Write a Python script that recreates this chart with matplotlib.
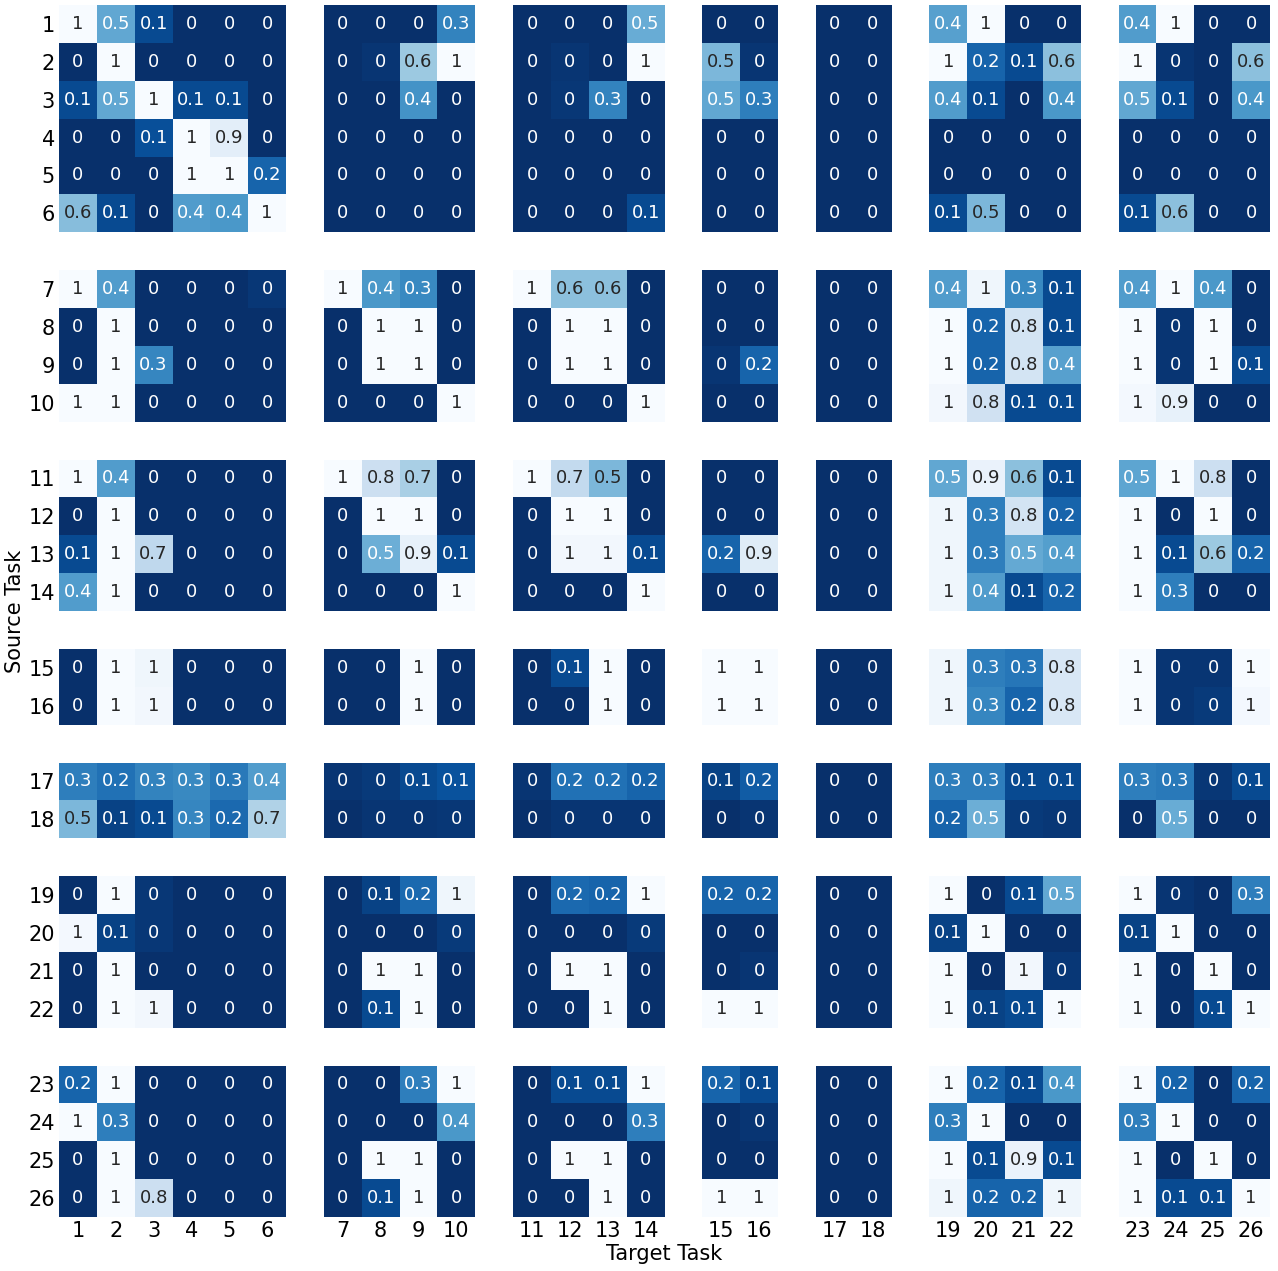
import numpy as np
import matplotlib
matplotlib.use("Agg")
import matplotlib.pyplot as plt
from matplotlib import colors as mcolors

# ---------------- data ----------------
task_labels = [str(i) for i in range(1, 27)]
group_sizes = [6, 4, 4, 2, 2, 4, 4]

src_01_06 = [
    [1, 0.47, 0.1, 0, 0, 0,   0, 0, 0, 0.32,   0, 0, 0, 0.49,   0, 0,   0, 0,   0.44, 1, 0, 0,   0.42, 1, 0, 0],
    [0, 1, 0, 0, 0, 0,   0, 0.02, 0.62, 1,   0, 0.02, 0, 1,   0.54, 0.02,   0, 0,   1, 0.2, 0.1, 0.58,   1, 0.02, 0, 0.58],
    [0.1, 0.47, 1, 0.1, 0.1, 0,   0, 0, 0.38, 0,   0, 0.03, 0.32, 0,   0.47, 0.3,   0, 0,   0.42, 0.1, 0, 0.4,   0.47, 0.1, 0, 0.4],
    [0, 0, 0.12, 1, 0.9, 0,   0, 0, 0, 0,   0, 0, 0, 0,   0, 0,   0, 0,   0, 0, 0, 0,   0, 0, 0, 0],
    [0, 0, 0, 1, 1, 0.2,   0, 0, 0, 0,   0, 0, 0, 0,   0, 0,   0, 0,   0, 0, 0, 0,   0, 0, 0, 0],
    [0.57, 0.1, 0, 0.42, 0.4, 1,   0, 0, 0, 0,   0, 0, 0, 0.1,   0, 0,   0, 0,   0.1, 0.54, 0, 0,   0.1, 0.58, 0, 0],
]
src_07_10 = [
    [1, 0.42, 0, 0, 0, 0.03,   1, 0.4, 0.34, 0,   1, 0.58, 0.58, 0,   0, 0,   0, 0,   0.42, 0.96, 0.34, 0.1,   0.42, 1, 0.4, 0],
    [0, 1, 0, 0, 0, 0,   0, 1, 1, 0,   0, 1, 1, 0,   0, 0,   0, 0,   1, 0.2, 0.82, 0.1,   1, 0.02, 1, 0],
    [0, 1, 0.33, 0, 0, 0,   0, 1, 1, 0,   0, 1, 1, 0,   0.02, 0.2,   0, 0,   1, 0.2, 0.82, 0.44,   1, 0.02, 1, 0.1],
    [1, 1, 0, 0, 0, 0,   0, 0, 0, 1,   0, 0, 0, 1,   0, 0,   0, 0,   0.97, 0.8, 0.1, 0.1,   0.98, 0.92, 0, 0],
]
src_11_14 = [
    [1, 0.42, 0, 0, 0, 0,   1, 0.78, 0.66, 0,   1, 0.74, 0.54, 0,   0, 0,   0, 0,   0.47, 0.93, 0.58, 0.1,   0.46, 1, 0.78, 0],
    [0, 1, 0, 0, 0, 0,   0, 1, 1, 0,   0, 1, 1, 0,   0, 0,   0, 0,   0.96, 0.3, 0.82, 0.2,   1, 0, 1, 0],
    [0.1, 1, 0.73, 0, 0, 0,   0, 0.5, 0.92, 0.1,   0, 0.97, 0.97, 0.1,   0.2, 0.88,   0, 0,   0.96, 0.3, 0.48, 0.43,   1, 0.1, 0.62, 0.2],
    [0.42, 1, 0, 0, 0, 0,   0, 0, 0, 1,   0, 0, 0, 1,   0, 0,   0, 0,   0.96, 0.42, 0.1, 0.2,   1, 0.3, 0, 0],
]
src_15_16 = [
    [0, 1, 0.96, 0, 0, 0,   0, 0, 1, 0,   0, 0.1, 1, 0,   1, 1,   0, 0,   0.96, 0.3, 0.27, 0.84,   1, 0.02, 0.02, 1],
    [0, 1, 0.97, 0, 0, 0,   0, 0, 1, 0,   0, 0, 1, 0,   1, 1,   0, 0,   0.96, 0.33, 0.2, 0.84,   1, 0.02, 0.04, 0.98],
]
src_17_18 = [
    [0.3, 0.25, 0.32, 0.34, 0.28, 0.42,   0.02, 0.04, 0.1, 0.13,   0.02, 0.25, 0.25, 0.2,   0.07, 0.17,   0, 0,   0.3, 0.3, 0.1, 0.1,   0.3, 0.28, 0.03, 0.1],
    [0.54, 0.07, 0.1, 0.33, 0.22, 0.68,   0, 0.02, 0.02, 0.03,   0, 0.02, 0.02, 0.02,   0, 0.02,   0, 0,   0.2, 0.5, 0.04, 0.03,   0, 0.49, 0, 0],
]
src_19_22 = [
    [0, 1, 0.03, 0, 0, 0,   0, 0.07, 0.22, 0.96,   0, 0.22, 0.2, 1,   0.2, 0.2,   0, 0,   1, 0, 0.1, 0.47,   1, 0.02, 0, 0.3],
    [0.98, 0.07, 0.03, 0, 0, 0,   0, 0, 0, 0.04,   0, 0, 0, 0.04,   0, 0,   0, 0,   0.07, 1, 0, 0,   0.07, 1, 0, 0],
    [0, 1, 0, 0, 0, 0,   0, 1, 1, 0,   0, 1, 1, 0,   0, 0.02,   0, 0,   1, 0, 0.97, 0.03,   1, 0, 1, 0],
    [0, 1, 0.97, 0, 0, 0,   0, 0.1, 1, 0,   0, 0, 1, 0,   1, 1,   0, 0,   1, 0.07, 0.1, 1,   1, 0, 0.1, 1],
]
src_23_26 = [
    [0.2, 1, 0, 0, 0, 0,   0, 0, 0.3, 1,   0, 0.1, 0.1, 1,   0.2, 0.1,   0, 0,   1, 0.2, 0.1, 0.4,   1, 0.2, 0, 0.2],
    [1, 0.3, 0, 0, 0, 0,   0, 0, 0, 0.4,   0, 0, 0, 0.3,   0, 0.02,   0, 0,   0.3, 1, 0, 0,   0.3, 1, 0, 0],
    [0, 1, 0, 0, 0, 0,   0, 1, 1, 0,   0, 1, 1, 0,   0, 0,   0, 0,   1, 0.1, 0.93, 0.1,   1, 0, 1, 0],
    [0, 1, 0.78, 0, 0, 0,   0, 0.1, 1, 0,   0, 0, 1, 0,   1, 1,   0, 0,   0.96, 0.2, 0.2, 0.96,   1, 0.1, 0.1, 1],
]

matrix = np.array(src_01_06 + src_07_10 + src_11_14 + src_15_16 +
                  src_17_18 + src_19_22 + src_23_26, dtype=float)

# ---------------- layout: insert a one-cell gap between groups ----------------
pos = []
off = 0
for g, n in enumerate(group_sizes):
    for i in range(n):
        pos.append(off + i)
    off += n + 1
total = off - 1  # 32 units

full = np.full((total, total), np.nan)
for r, pr in enumerate(pos):
    for c, pc in enumerate(pos):
        full[pr, pc] = matrix[r, c]
masked = np.ma.masked_invalid(full)

fig = plt.figure(figsize=(12.78, 12.71), dpi=100)
ax = fig.add_axes([59 / 1278, 1 - 1217 / 1271, 1211 / 1278, 1212 / 1271])

cmap = plt.get_cmap("Blues_r")
norm = mcolors.Normalize(vmin=0, vmax=1)
ax.pcolormesh(np.arange(total + 1), np.arange(total + 1), masked,
              cmap=cmap, norm=norm, edgecolors="face", linewidth=0)
ax.set_xlim(0, total)
ax.set_ylim(total, 0)

def lum(rgba):
    rgb = np.array(rgba[:3])
    lin = np.where(rgb <= 0.03928, rgb / 12.92, ((rgb + 0.055) / 1.055) ** 2.4)
    return 0.2126 * lin[0] + 0.7152 * lin[1] + 0.0722 * lin[2]

for r, pr in enumerate(pos):
    for c, pc in enumerate(pos):
        v = matrix[r, c]
        col = cmap(norm(v))
        tc = ".15" if lum(col) > 0.408 else "w"
        ax.text(pc + 0.5, pr + 0.5, f"{round(v, 1):g}", ha="center", va="center",
                fontsize=13, color=tc)

centers = [p + 0.5 for p in pos]
ax.set_xticks(centers)
ax.set_xticklabels(task_labels, fontsize=15)
ax.set_yticks(centers)
ax.set_yticklabels(task_labels, fontsize=15)
ax.tick_params(length=0, pad=3)
for s in ax.spines.values():
    s.set_visible(False)

ax.set_xlabel("Target Task", fontsize=15, labelpad=2)
ax.set_ylabel("Source Task", fontsize=15, labelpad=2)

fig.savefig("out.png", dpi=100)
